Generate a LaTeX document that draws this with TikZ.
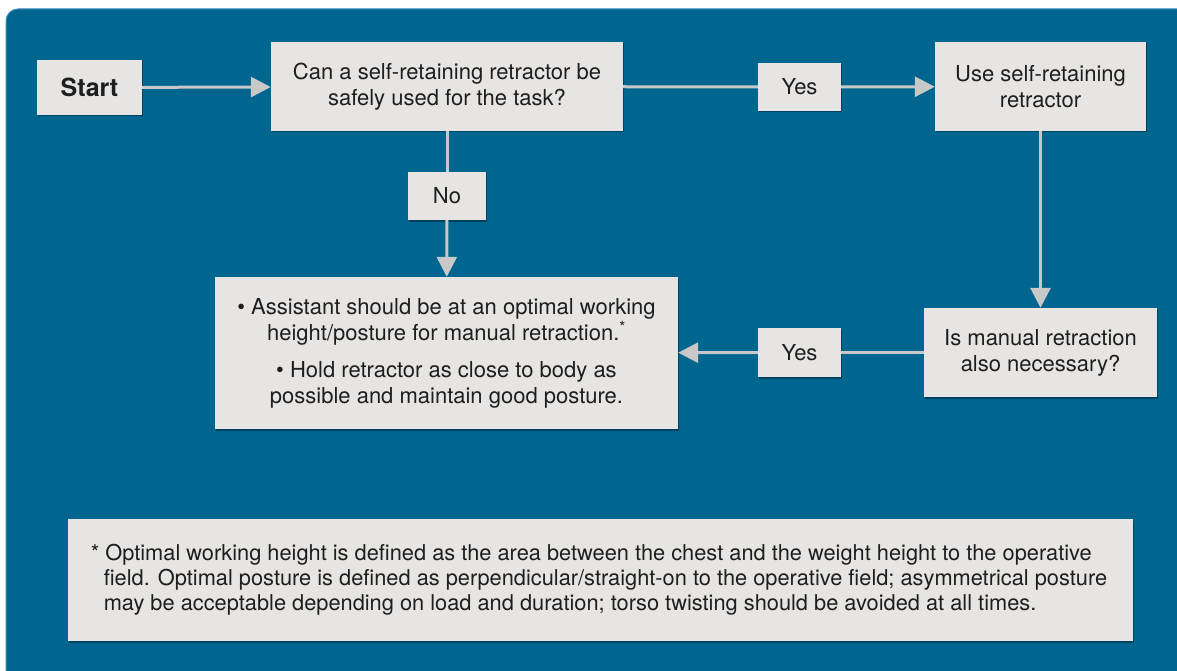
\documentclass[tikz,border=0pt]{standalone}
\usepackage{fontspec}
\setmainfont{TeX Gyre Heros}
\usetikzlibrary{arrows.meta,shadows}
\definecolor{bgblue}{RGB}{0,102,143}
\definecolor{bgedge}{RGB}{60,140,190}
\definecolor{boxgray}{RGB}{230,229,228}
\definecolor{arrowgray}{RGB}{200,200,200}
\definecolor{ink}{RGB}{30,30,30}

\tikzset{
  box/.style={fill=boxgray, draw=none, inner sep=0pt, align=center, text=ink,
    font=\fontsize{22}{26}\selectfont,
    drop shadow={shadow xshift=1pt, shadow yshift=-1.5pt, opacity=0.35, fill=black}},
  link/.style={arrowgray, line width=3pt},
  arr/.style={link, -{Triangle[length=20pt,width=20pt]}},
}

\begin{document}
\begin{tikzpicture}[x=1pt,y=-1pt]
\useasboundingbox (0,0) rectangle (1177,671);
\fill[white] (0,0) rectangle (1177,671);
\fill[bgblue, draw=bgedge, line width=1pt, rounded corners=12pt] (6,9) rectangle (1200,700);

% decision and action boxes
\node[box, minimum width=105pt, minimum height=55pt, font=\fontsize{25}{28}\selectfont\bfseries] (start) at (89.5,87.5) {Start};
\node[box, minimum width=352pt, minimum height=89pt] (selfq) at (447,86.5) {Can a self-retaining retractor be\\ safely used for the task?};
\node[box, minimum width=83pt, minimum height=48pt] (yesa) at (799.5,87) {Yes};
\node[box, minimum width=211pt, minimum height=89pt] (useself) at (1040.5,86.5) {Use self-retaining\\ retractor};
\node[box, minimum width=78pt, minimum height=48pt] (no) at (447,196) {No};
\node[box, minimum width=463pt, minimum height=152pt] (assist) at (446.5,353)
  {\textbullet\ Assistant should be at an optimal working\\ height/posture for manual retraction.\textsuperscript{*}\\[11pt]
   \textbullet\ Hold retractor as close to body as\\ possible and maintain good posture.};
\node[box, minimum width=83pt, minimum height=49pt] (yesb) at (799.5,352.5) {Yes};
\node[box, minimum width=233pt, minimum height=89pt] (manualq) at (1040.5,352.5) {Is manual retraction\\ also necessary?};

% footnote
\node[box, minimum width=1065pt, minimum height=122pt, align=left,
  font=\fontsize{21.8}{25}\selectfont] (note) at (600.5,580)
  {\hspace*{-3pt}* Optimal working height is defined as the area between the chest and the weight height to the operative\\
   \hspace*{10pt}field. Optimal posture is defined as perpendicular/straight-on to the operative field; asymmetrical posture\\
   \hspace*{10pt}may be acceptable depending on load and duration; torso twisting should be avoided at all times.};

% connectors
\draw[arr] (start) -- (selfq);
\draw[link] (selfq) -- (yesa);
\draw[arr] (yesa) -- (useself);
\draw[link] (selfq) -- (no);
\draw[arr] (no) -- (assist);
\draw[arr] (useself) -- (manualq);
\draw[link] (manualq) -- (yesb);
\draw[arr] (yesb) -- (assist);

\end{tikzpicture}
\end{document}
